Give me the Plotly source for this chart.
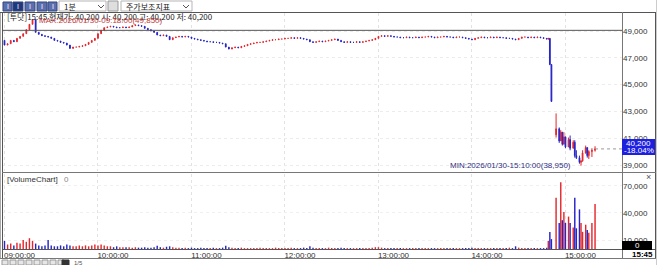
import plotly.graph_objects as go
import pandas as pd

W, H = 658, 265

# ---------------- data ----------------
day = "2026-01-30"
main_start = "09:00"
main_step = "2min"
first_open = 48300
close_main = [
    47950, 48050, 48300, 48200, 48450, 48600, 48800, 49100, 49500, 49850,
    48900, 48750, 48650, 48600, 48550, 48450, 48300, 48250, 48150, 48100,
    47950, 47700, 47800, 47800, 47850, 47900, 48000, 48150, 48300, 48450,
    48800, 49050, 49250, 49300, 49350, 49300, 49250, 49250, 49300, 49250,
    49300, 49400, 49450, 49400, 49350, 49200, 49100, 49000, 48900, 48700,
    48650, 48700, 48600, 48350, 48500, 48550, 48600, 48550, 48600, 48550,
    48450, 48400, 48350, 48300, 48250, 48200, 48200, 48150, 48150, 48100,
    48050, 47800, 47650, 47750, 47800, 47750, 47850, 47900, 48000, 48050,
    48100, 48150, 48150, 48200, 48250, 48300, 48350, 48350, 48400, 48400,
    48450, 48450, 48500, 48450, 48500, 48450, 48400, 48350, 48200, 48150,
    48200, 48250, 48200, 48250, 48300, 48350, 48400, 48300, 48200, 48150,
    48200, 48150, 48150, 48200, 48150, 48200, 48250, 48300, 48350, 48450,
    48600, 48650, 48600, 48650, 48600, 48550, 48550, 48500, 48500, 48550,
    48500, 48500, 48550, 48500, 48550, 48550, 48600, 48550, 48500, 48550,
    48550, 48600, 48550, 48550, 48500, 48550, 48550, 48500, 48450, 48400,
    48350, 48450, 48500, 48550, 48500, 48500, 48550, 48500, 48550, 48500,
    48500, 48450, 48450, 48400, 48350, 48450, 48550, 48550, 48500, 48550,
    48500, 48550, 48500, 48450, 48400,
]
vol_main = [
    9000, 5000, 6000, 4000, 7000, 6000, 10000, 8000, 12000, 9000,
    6000, 4000, 3000, 4000, 10000, 4000, 3000, 3000, 4000, 3000,
    5000, 4000, 3000, 3000, 4000, 3000, 4000, 3000, 4000, 5000,
    4000, 5000, 4000, 3000, 3000, 2000, 3000, 2000, 2000, 2000,
    2000, 1500, 2000, 1500, 1500, 2000, 1500, 1500, 2000, 3500,
    2000, 1500, 2500, 3000, 2000, 1500, 1500, 1000, 1500, 1000,
    1500, 1000, 1000, 1500, 1000, 1000, 1000, 1500, 1000, 1000,
    1500, 3500, 2000, 1500, 1000, 1000, 1500, 1000, 1000, 1000,
    1000, 1000, 1500, 1000, 1000, 1000, 1000, 1500, 1000, 1000,
    1000, 1000, 1500, 1000, 1000, 1000, 1500, 1000, 3000, 1500,
    1000, 1000, 1000, 1000, 1500, 1000, 1000, 1000, 1500, 1000,
    1000, 1000, 1000, 1000, 1000, 1000, 1000, 1000, 1500, 2000,
    2000, 1500, 1000, 1000, 1000, 1000, 1000, 1000, 1000, 1000,
    1000, 1000, 1000, 1000, 1000, 1000, 1000, 1000, 1000, 1000,
    1000, 1000, 1000, 1000, 1000, 1000, 1000, 1000, 1000, 1000,
    1500, 1000, 1000, 1000, 1000, 1000, 1000, 1000, 1000, 1000,
    1000, 1000, 1500, 1000, 3000, 1500, 1000, 1000, 1000, 1000,
    1000, 1000, 1000, 1000, 1500,
]
crash_times = ["14:49", "14:50", "14:51", "14:54", "14:56", "14:57", "14:58", "14:59",
               "15:00", "15:02", "15:03", "15:05", "15:06", "15:07", "15:09", "15:10",
               "15:11", "15:13", "15:14", "15:15", "15:17", "15:19"]
crash_open = [48400, 48450, 46500, 41250, 41700, 40800, 41450, 40550,
              41100, 40350, 40900, 40250, 40700, 39700, 39550, 39200,
              39300, 39900, 40300, 39700, 40000, 40100]
crash_high = [48450, 48450, 46500, 42850, 41800, 41600, 41450, 41450,
              41100, 41050, 41200, 40850, 40850, 40100, 39700, 39350,
              40100, 40450, 40300, 40100, 40250, 40400]
crash_low = [48350, 46450, 43700, 41050, 40650, 40800, 40450, 40550,
             40250, 40350, 40100, 40250, 39550, 39450, 39100, 38950,
             39250, 39850, 39550, 39450, 39600, 40000]
crash_close = [48450, 46500, 43750, 41700, 40800, 41450, 40550, 41100,
               40350, 40900, 40250, 40700, 39700, 39550, 39200, 39300,
               39900, 40300, 39700, 40000, 40100, 40200]
crash_vol = [9000, 19000, 11000, 57000, 29000, 74000, 32000, 41000,
             29000, 36000, 29000, 24000, 57000, 23000, 44000, 29000,
             19000, 27000, 21000, 18000, 29000, 50000]

prev_close = 49050
last_price = 40200
change_pct = "-18.04%"
max_time, max_price = "09:18", 49850
min_time, min_price = "15:10", 38950
price_ticks = [39000, 41000, 43000, 45000, 47000, 49000]
vol_ticks = [10000, 40000, 70000]
hour_ticks = ["09:00", "10:00", "11:00", "12:00", "13:00", "14:00", "15:00"]
header_text = "[투닷]15:45 현재가: 40,200 시: 40,200 고: 40,200 저: 40,200"

# ---------------- assemble ----------------
t_main = list(pd.date_range(f"{day} {main_start}", periods=len(close_main), freq=main_step))
open_main = [first_open] + close_main[:-1]
high_main = [max(o, c) for o, c in zip(open_main, close_main)]
low_main = [min(o, c) for o, c in zip(open_main, close_main)]
t_crash = [pd.Timestamp(f"{day} {t}") for t in crash_times]

T = t_main + t_crash
O = open_main + crash_open
C = close_main + crash_close
V = vol_main + crash_vol

RED = "#e4262c"
BLUE = "#2424c8"
vcol = [RED if c >= o else BLUE for o, c in zip(O, C)]


def P(x):
    return x / W


def Q(y):
    return 1 - y / H


x0 = pd.Timestamp(f"{day} 08:58:24")
x1 = pd.Timestamp(f"{day} 15:36:18")
hours = [pd.Timestamp(f"{day} {h}") for h in hour_ticks]
hour_labels = [h + ":00" for h in hour_ticks]

candle_style = dict(
    increasing=dict(line=dict(color=RED, width=1), fillcolor=RED),
    decreasing=dict(line=dict(color=BLUE, width=1), fillcolor=BLUE),
    whiskerwidth=0, xaxis="x", yaxis="y", showlegend=False, hoverinfo="skip",
)
fig = go.Figure()
fig.add_trace(go.Candlestick(x=t_main, open=open_main, high=high_main, low=low_main,
                             close=close_main, **candle_style))
fig.add_trace(go.Candlestick(x=t_crash, open=crash_open, high=crash_high, low=crash_low,
                             close=crash_close, **candle_style))
fig.add_trace(go.Bar(
    x=T, y=V, marker=dict(color=vcol, line=dict(width=0)), width=55000,
    xaxis="x2", yaxis="y2", showlegend=False, hoverinfo="skip",
))

FONT = "Liberation Sans, Arial, sans-serif"
KFONT = "Noto Sans CJK KR, sans-serif"
tickfont = dict(family=FONT, size=8, color="#333")

fig.update_layout(
    width=W, height=H, margin=dict(l=0, r=0, t=0, b=0),
    paper_bgcolor="white", plot_bgcolor="white", boxmode="overlay",
    xaxis=dict(domain=[P(2), P(622)], anchor="y", range=[x0, x1], type="date",
               tickvals=hours, showticklabels=False, showgrid=True,
               gridcolor="#e2e2e2", griddash="dot", gridwidth=1, zeroline=False,
               showline=False, ticks="", rangeslider=dict(visible=False), fixedrange=True),
    yaxis=dict(domain=[Q(171), Q(13)], range=[38552, 50343], side="right",
               tickvals=price_ticks, ticktext=[f"{v:,}" for v in price_ticks],
               tickfont=tickfont, showgrid=True, gridcolor="#ececec", griddash="dot",
               zeroline=False, showline=False, ticks="", fixedrange=True),
    xaxis2=dict(domain=[P(2), P(622)], anchor="y2", matches="x", type="date",
                tickvals=hours, ticktext=hour_labels, tickfont=tickfont,
                ticklabelshift=15, showgrid=True, gridcolor="#e2e2e2", griddash="dot",
                zeroline=False, showline=False, ticks="", fixedrange=True,
                rangeslider=dict(visible=False)),
    yaxis2=dict(domain=[Q(249), Q(174)], range=[0, 83300], side="right",
                tickvals=vol_ticks, ticktext=[f"{v:,}" for v in vol_ticks],
                tickfont=tickfont, showgrid=True, gridcolor="#f0f0f0", griddash="dot",
                zeroline=False, showline=False, ticks="", fixedrange=True),
)

shapes = []


def hline(y, xa, xb, color="#666", width=1, dash="solid"):
    shapes.append(dict(type="line", xref="paper", yref="paper", x0=P(xa), x1=P(xb),
                       y0=Q(y), y1=Q(y), line=dict(color=color, width=width, dash=dash)))


def vline(x, ya, yb, color="#666", width=1):
    shapes.append(dict(type="line", xref="paper", yref="paper", x0=P(x), x1=P(x),
                       y0=Q(ya), y1=Q(yb), line=dict(color=color, width=width)))


def rect(xa, ya, xb, yb, fill, line="rgba(0,0,0,0)", lw=1):
    shapes.append(dict(type="rect", xref="paper", yref="paper", x0=P(xa), x1=P(xb),
                       y0=Q(yb), y1=Q(ya), fillcolor=fill, line=dict(color=line, width=lw),
                       layer="above"))


# frame
vline(0.5, 12, 259, "#aaa")
vline(2.5, 12, 259, "#555")
hline(12.5, 0, 656, "#555")
vline(655.5, 12, 259, "#555")
vline(622.5, 12, 259, "#777")
hline(172.5, 2, 656, "#777")
hline(249.5, 2, 656, "#555")
hline(258.5, 0, 656, "#777")
vline(656.5, 0, 265, "#ccc")

# previous close reference line
shapes.append(dict(type="line", xref="paper", yref="y", x0=P(2), x1=P(622),
                   y0=prev_close, y1=prev_close, line=dict(color="#555", width=1)))
# last price dotted guide
shapes.append(dict(type="line", xref="x", yref="y", x0=t_crash[-1], x1=x1,
                   y0=last_price, y1=last_price, line=dict(color="#999", width=1, dash="dot")))

# toolbar
icon_x = [(3, 12), (13, 23), (25, 35), (37, 47), (48, 57)]
for i, (a, b) in enumerate(icon_x):
    rect(a, 2, b, 11, "#1f3a7c" if i == 1 else "#5b6fae", "#33477f", 1)
rect(59, 1, 106, 11, "white", "#b5b5b5", 1)
rect(108, 1, 118, 11, "#dedede", "#999", 1)
rect(121, 1, 192, 11, "white", "#b5b5b5", 1)
for cx in (101, 186):
    shapes.append(dict(type="path", xref="paper", yref="paper",
                       path=f"M {P(cx-3)},{Q(5)} L {P(cx)},{Q(8)} L {P(cx+3)},{Q(5)}",
                       line=dict(color="#555", width=1)))
# bottom toolbar
for a in range(2, 60, 8):
    rect(a, 260, a + 6, 265, "#e6e6e6", "#999", 1)
rect(62, 260, 69, 265, "#333", "#333", 1)

# price box & volume box
rect(622, 139, 655, 155, "#1e20e0")
rect(622, 241, 652, 250, "black")

fig.update_layout(shapes=shapes)

ann = []


def text(x, y, s, size=8, color="#333", xanchor="left", family=FONT, bold=False):
    ann.append(dict(xref="paper", yref="paper", x=P(x), y=Q(y), text=f"<b>{s}</b>" if bold else s,
                    showarrow=False, xanchor=xanchor, yanchor="middle",
                    font=dict(family=family, size=size, color=color)))


for i, (a, b) in enumerate(icon_x):
    text((a + b) / 2, 6.5, "I", 7, "white", "center")
text(62, 6.5, "1분", 8, "#222", family=KFONT)
text(124, 6.5, "주가보조지표", 8, "#222", family=KFONT)
text(5, 17, header_text, 8, "#222", family=KFONT)
text(5, 179, "[VolumeChart]", 8, "#333")
text(62, 179, "0", 8, "#888")
text(648, 177, "×", 9, "#555", "center")
text(638.5, 143.5, f"{last_price:,}", 8, "white", "center")
text(638.5, 150.5, change_pct, 8, "white", "center")
text(637, 245.5, "0", 8, "white", "center")
text(642, 254.5, "15:45", 8, "#000", "center", bold=True)
text(72, 262.5, "1/5", 6, "#555")

ann.append(dict(xref="x", yref="y", x=pd.Timestamp(f"{day} {max_time}"), y=max_price,
                text=f"MAX:{day.replace('-', '/')}-{max_time}:00({max_price:,})",
                showarrow=False, xanchor="left", yanchor="middle", xshift=4, yshift=-1,
                font=dict(family=FONT, size=8, color="#c23b3b")))
ann.append(dict(xref="x", yref="y", x=pd.Timestamp(f"{day} {min_time}"), y=min_price,
                text=f"MIN:{day.replace('-', '/')}-{min_time}:00({min_price:,})",
                showarrow=False, xanchor="right", yanchor="middle", xshift=-8, yshift=0,
                font=dict(family=FONT, size=8, color="#2e2e80")))
fig.update_layout(annotations=ann)

fig.write_html("out.html", config={"displayModeBar": False, "staticPlot": True})
